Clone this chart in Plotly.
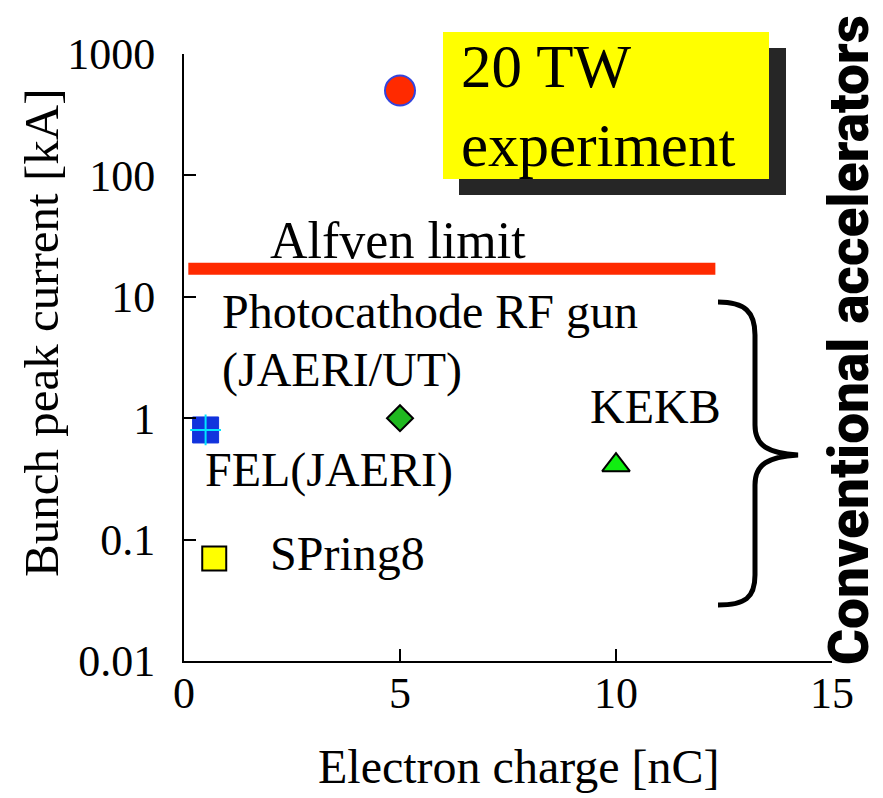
import plotly.graph_objects as go

# ---- data ----
exp_x = [5.0]
exp_y = [500.0]
fel_x = [0.5]
fel_y = [0.8]
rfgun_x = [5.0]
rfgun_y = [1.0]
kekb_x = [10.0]
kekb_y = [0.41]
spring8_x = [0.7]
spring8_y = [0.07]
alfven_x = [0.1, 12.3]
alfven_y = [17.0, 17.0]

x_ticks = [0, 5, 10, 15]
y_ticks = [0.01, 0.1, 1, 10, 100, 1000]
y_ticklabels = ["0.01", "0.1", "1", "10", "100", "1000"]

# ---- layout geometry (page pixels; body has an 8px margin) ----
OFF = 8
W, H = 883 - OFF, 798 - OFF
AX_L, AX_R, AX_T, AX_B = 184, 832, 54, 661   # page pixels of plot area
L = AX_L - OFF
T = AX_T - OFF
R = W - (AX_R - OFF)
B = H - (AX_B - OFF)
PW = W - L - R
PH = H - T - B


def px(x):
    return (x - AX_L) / PW


def py(y):
    return (AX_B - y) / PH


SERIF = "Liberation Serif, Times New Roman, serif"

fig = go.Figure()

fig.add_trace(go.Scatter(x=alfven_x, y=alfven_y, mode="lines",
                         line=dict(color="#ff2a00", width=12), showlegend=False,
                         hoverinfo="skip"))
fig.add_trace(go.Scatter(x=exp_x, y=exp_y, mode="markers",
                         marker=dict(symbol="circle", size=30, color="#ff2a00",
                                     line=dict(color="#3344dd", width=2)),
                         showlegend=False))
fig.add_trace(go.Scatter(x=fel_x, y=fel_y, mode="markers",
                         marker=dict(symbol="square", size=26, color="#1133dd",
                                     line=dict(color="#1133dd", width=1)),
                         showlegend=False))
fig.add_trace(go.Scatter(x=fel_x, y=fel_y, mode="markers",
                         marker=dict(symbol="cross-thin", size=22, color="#00e5ff",
                                     line=dict(color="#00e5ff", width=2)),
                         showlegend=False))
fig.add_trace(go.Scatter(x=rfgun_x, y=rfgun_y, mode="markers",
                         marker=dict(symbol="diamond", size=20, color="#1fb81f",
                                     line=dict(color="black", width=2)),
                         showlegend=False))
fig.add_trace(go.Scatter(x=kekb_x, y=kekb_y, mode="markers",
                         marker=dict(symbol="triangle-up", size=24, color="#11ee11",
                                     line=dict(color="black", width=2)),
                         showlegend=False))
fig.add_trace(go.Scatter(x=spring8_x, y=spring8_y, mode="markers",
                         marker=dict(symbol="square", size=24, color="#ffff00",
                                     line=dict(color="black", width=2)),
                         showlegend=False))

shapes = []
# shadow + yellow box
shapes.append(dict(type="rect", xref="paper", yref="paper",
                   x0=px(459), x1=px(786), y0=py(48), y1=py(195),
                   fillcolor="#262626", line=dict(width=0), layer="above"))
shapes.append(dict(type="rect", xref="paper", yref="paper",
                   x0=px(443), x1=px(769), y0=py(32), y1=py(179),
                   fillcolor="#ffff00", line=dict(width=0), layer="above"))

# curly brace
pts = [
    ("M", [(718, 302)]),
    ("C", [(745, 302), (755, 312), (755, 335)]),
    ("L", [(755, 425)]),
    ("C", [(755, 446), (768, 453), (798, 455)]),
    ("C", [(768, 457), (755, 464), (755, 485)]),
    ("L", [(755, 575)]),
    ("C", [(755, 598), (745, 605), (718, 605)]),
]
path = ""
for cmd, cs in pts:
    path += cmd + " " + " ".join(f"{px(a):.5f},{py(b):.5f}" for a, b in cs) + " "
shapes.append(dict(type="path", xref="paper", yref="paper", path=path.strip(),
                   line=dict(color="black", width=5)))

annotations = []


def txt(s, x, y, size=48, xanchor="left", yanchor="middle", **kw):
    annotations.append(dict(text=s, x=px(x), y=py(y), xref="paper", yref="paper",
                            xanchor=xanchor, yanchor=yanchor, showarrow=False,
                            font=dict(family=kw.pop("family", SERIF), size=size,
                                      color="black"), **kw))


txt("Alfven limit", 268, 241, size=52)
txt("Photocathode RF gun", 220, 312)
txt("(JAERI/UT)", 220, 370)
txt("KEKB", 588, 406)
txt("FEL(JAERI)", 203, 470)
txt("SPring8", 268, 553)
txt("20 TW<br>experiment", 459, 106, size=61, align="left")
# axis titles
txt("Electron charge [nC]", 519, 766, xanchor="center")
txt("Bunch peak current [kA]", 41, 333, size=49, xanchor="center", textangle=-90)
# side label
annotations.append(dict(text="Conventional accelerators", x=px(849), y=py(340),
                        xref="paper", yref="paper", xanchor="center", yanchor="middle",
                        textangle=-90, showarrow=False,
                        font=dict(family="Roboto, Liberation Sans Narrow, sans-serif",
                                  size=55, weight=900, color="black")))

fig.update_layout(
    width=W, height=H,
    margin=dict(l=L, r=R, t=T, b=B, autoexpand=False),
    paper_bgcolor="white", plot_bgcolor="white",
    shapes=shapes, annotations=annotations,
    showlegend=False,
    font=dict(family=SERIF, color="black"),
    xaxis=dict(range=[0, 15], tickvals=x_ticks, ticks="inside", ticklen=12,
               tickwidth=2, tickcolor="black", showline=True, linecolor="black",
               linewidth=2, showgrid=False, zeroline=False, mirror=False,
               ticklabelstandoff=-8,
               tickfont=dict(family=SERIF, size=44, color="black")),
    yaxis=dict(type="log", range=[-2, 3], tickvals=y_ticks, ticktext=y_ticklabels,
               ticks="inside", ticklen=12, tickwidth=2, tickcolor="black",
               showline=True, linecolor="black", linewidth=2, showgrid=False,
               zeroline=False, mirror=False, ticklabelstandoff=18,
               tickfont=dict(family=SERIF, size=44, color="black")),
)

fig.write_html("out.html")
